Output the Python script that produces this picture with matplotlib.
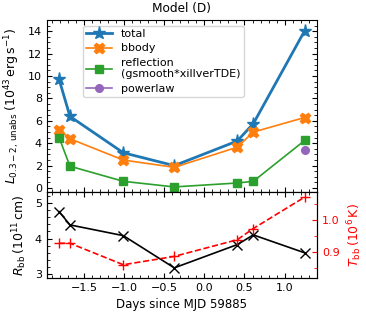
import matplotlib
matplotlib.use("Agg")
import matplotlib.pyplot as plt
from matplotlib.ticker import AutoMinorLocator, MultipleLocator

days = [-1.81, -1.675, -1.01, -0.375, 0.41, 0.61, 1.25]
lum_total = [9.7, 6.4, 3.15, 2.0, 4.2, 5.75, 14.05]
lum_bbody = [5.2, 4.4, 2.5, 1.85, 3.65, 5.0, 6.3]
lum_refl = [4.5, 1.95, 0.6, 0.1, 0.45, 0.6, 4.25]
days_pl = [1.25]
lum_pl = [3.4]
r_bb = [4.75, 4.38, 4.08, 3.18, 3.83, 4.1, 3.6]
t_bb = [0.928, 0.928, 0.861, 0.887, 0.939, 0.974, 1.072]

plt.rcParams["font.size"] = 8
plt.rcParams["mathtext.fontset"] = "dejavusans"


def style_ax(ax, right=True):
    ax.tick_params(which="both", direction="in", top=True, right=right)
    ax.xaxis.set_minor_locator(AutoMinorLocator())
    ax.yaxis.set_minor_locator(AutoMinorLocator())


fig = plt.figure(figsize=(3.66, 3.14), dpi=100)
gs = fig.add_gridspec(2, 1, height_ratios=[2, 1], hspace=0,
                      left=0.128, right=0.866, top=0.936, bottom=0.115)
ax1 = fig.add_subplot(gs[0])
ax2 = fig.add_subplot(gs[1], sharex=ax1)

ax1.plot(days, lum_total, "-*", color="C0", lw=2.0, ms=9.5, label="total")
ax1.plot(days, lum_bbody, "-X", color="C1", lw=1.2, ms=7.5, label="bbody")
ax1.plot(days, lum_refl, "-s", color="C2", lw=1.2, ms=5.5,
         label="reflection\n(gsmooth*xillverTDE)")
ax1.plot(days_pl, lum_pl, "-o", color="C4", lw=1.2, ms=5.5, label="powerlaw")
ax1.set_ylim(-0.35, 15)
ax1.set_yticks([0, 2, 4, 6, 8, 10, 12, 14])
ax1.set_ylabel(r"$L_{0.3-2,\,\rm unabs}\;(10^{43}\,\rm erg\,s^{-1})$", fontsize=9)
ax1.set_title("Model (D)", fontsize=8.7)
ax1.legend(loc="upper left", bbox_to_anchor=(0.113, 1.0), fontsize=8,
           labelspacing=0.4, handlelength=2.3, borderpad=0.3)
style_ax(ax1)
plt.setp(ax1.get_xticklabels(), visible=False)

ax2.plot(days, r_bb, "-x", color="black", lw=1.2, ms=6.5)
ax2.set_ylim(2.9, 5.3)
ax2.set_ylabel(r"$R_{\rm bb}\,(10^{11}\,\rm cm)$", fontsize=9)
ax2.set_xlabel("Days since MJD 59885", fontsize=8.5)
style_ax(ax2, right=False)

ax3 = ax2.twinx()
ax3.plot(days, t_bb, "--+", color="red", lw=1.2, ms=7.5)
ax3.set_ylim(0.82, 1.088)
ax3.yaxis.set_major_locator(MultipleLocator(0.1))
ax3.yaxis.set_minor_locator(MultipleLocator(0.05))
ax3.tick_params(which="both", direction="in", colors="red")
ax3.set_ylabel(r"$T_{\rm bb}\,(10^{6}\,\rm K)$", color="red", fontsize=9)

fig.savefig("out.png", dpi=100)
